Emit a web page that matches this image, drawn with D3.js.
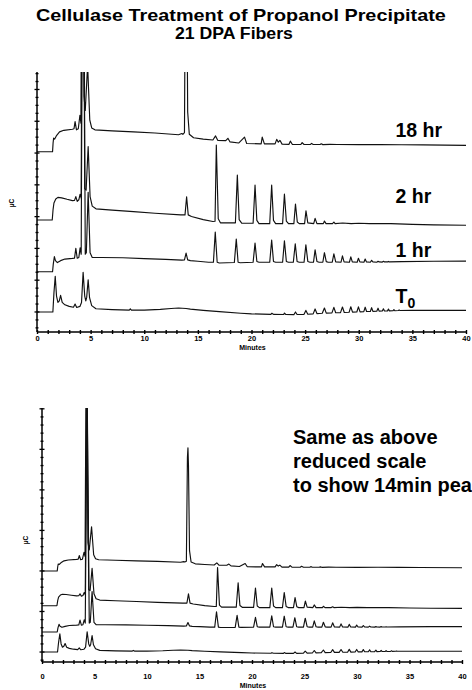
<!DOCTYPE html>
<html>
<head>
<meta charset="utf-8">
<script src="https://cdn.jsdelivr.net/npm/d3@7"></script>
<style>
body { margin: 0; background: #fff; }
text { font-family: "Liberation Sans", Arial, Helvetica, sans-serif; font-weight: bold; fill: #000; }
</style>
</head>
<body>
<div id="chart"></div>
<script>
// chart texts
const titleLines = ["Cellulase Treatment of Propanol Precipitate", "21 DPA Fibers"];
const sampleNames = ["18 hr", "2 hr", "1 hr", "T"];
const noteLines = ["Same as above", "reduced scale", "to show 14min peak"];
const minuteLabels = [0, 5, 10, 15, 20, 25, 30, 35, 40];

// vertical offset of each trace (same order as sampleNames), per panel, in µC units
const offsetsTop = [10.08, 6.16, 2.53, 0];
const offsetsBottom = [10.0, 6.08, 2.47, 0];

// traces: [minutes, µC above trace start]
const trace18hr = [[0,0],[1.45,0],[1.5,0.55],[1.55,0.86],[1.65,0.8],[1.8,1.0],[2.1,1.25],[2.5,1.35],[3.3,1.42],[3.45,1.45],
  [3.55,1.9],[3.68,1.38],[3.85,1.45],[4.0,2.3],[4.1,1.8],[4.22,30],[4.38,3.5],[4.5,2.6],[4.72,5.45],[4.92,2.0],[5.1,1.5],
  [5.4,1.38],[7,1.32],[9,1.25],[11,1.18],[13.2,1.07],[13.5,1.15],[13.6,1.1],[13.75,1.2],[13.85,14],[13.9,15.2],[13.95,13],
  [14.05,2.5],[14.2,1.1],[14.6,0.88],[15.5,0.8],[16.4,0.74],[16.65,1.0],[16.85,0.72],[17.6,0.7],[17.8,0.85],[18.0,0.62],
  [18.8,0.55],[19.35,0.92],[19.55,0.52],[20.9,0.5],[21.0,0.92],[21.2,0.5],[22.2,0.5],[22.35,0.78],[22.5,0.6],[22.65,0.72],
  [22.85,0.48],[23.5,0.47],[23.62,0.67],[23.8,0.47],[24.6,0.46],[24.72,0.58],[24.9,0.46],[25.5,0.46],[25.6,0.53],[25.75,0.46],
  [26.4,0.46],[26.5,0.5],[26.65,0.45],[27.3,0.47],[28,0.46],[30,0.45],[32,0.46],[34,0.44],[36,0.43],[40,0.4]];
const trace2hr = [[0,-0.37],[1.42,-0.37],[1.5,0.3],[1.58,0.7],[1.75,0.95],[1.95,1.05],[2.3,1.02],[2.8,0.93],[3.3,0.85],[3.5,0.86],
  [3.62,1.1],[3.75,0.8],[3.9,0.9],[4.02,1.25],[4.12,1.0],[4.27,30],[4.45,1.6],[4.58,1.5],[4.77,4.25],[4.95,1.1],[5.15,0.5],
  [5.5,0.33],[7,0.25],[9,0.15],[11,0.05],[13.4,-0.05],[13.8,-0.05],[13.95,1.09],[14.1,-0.05],[14.4,-0.15],[15.5,-0.35],
  [16.4,-0.47],[16.6,-0.45],[16.72,4.34],[16.9,-0.3],[17.1,-0.55],[17.5,-0.55],[18.5,-0.55],[18.68,2.45],[18.85,-0.35],
  [19.1,-0.58],[20.15,-0.58],[20.33,1.82],[20.5,-0.4],[20.7,-0.6],[21.7,-0.6],[21.88,1.82],[22.05,-0.4],[22.25,-0.6],
  [22.9,-0.6],[23.07,1.26],[23.25,-0.45],[23.45,-0.6],[23.95,-0.6],[24.1,0.63],[24.27,-0.5],[24.45,-0.6],[24.95,-0.6],
  [25.08,0.21],[25.25,-0.55],[25.8,-0.6],[25.93,-0.27],[26.1,-0.6],[26.7,-0.6],[26.8,-0.44],[26.95,-0.6],[27.55,-0.6],
  [27.68,-0.5],[27.8,-0.6],[28.5,-0.56],[29.3,-0.6],[30,-0.58],[31,-0.6],[33,-0.6],[35,-0.65],[37,-0.68],[40,-0.7]];
const trace1hr = [[0,0],[1.45,0],[1.52,0.5],[1.62,0.95],[1.72,0.7],[1.9,0.58],[2.2,0.7],[2.6,0.8],[3.3,0.84],[3.5,0.86],
  [3.62,1.47],[3.75,0.85],[3.9,0.9],[4.02,1.5],[4.12,1.1],[4.3,30],[4.5,1.1],[4.6,1.2],[4.77,5.0],[4.95,1.2],[5.15,0.9],
  [6,0.9],[8,0.88],[10,0.83],[12,0.78],[13.5,0.73],[13.75,0.75],[13.9,1.17],[14.05,0.75],[14.3,0.7],[15,0.66],[16,0.6],
  [16.45,0.6],[16.62,2.5],[16.8,0.6],[17,0.55],[18.4,0.58],[18.58,2.06],[18.75,0.6],[18.95,0.57],[20.15,0.6],[20.33,1.8],
  [20.5,0.65],[20.7,0.6],[21.7,0.6],[21.88,2.0],[22.05,0.65],[22.25,0.6],[22.9,0.6],[23.07,1.95],[23.25,0.65],[23.45,0.6],
  [23.9,0.6],[24.08,1.76],[24.25,0.65],[24.45,0.6],[24.9,0.6],[25.07,1.7],[25.25,0.65],[25.45,0.6],[25.78,0.6],[25.93,1.38],
  [26.1,0.65],[26.3,0.6],[26.65,0.6],[26.8,1.2],[26.97,0.64],[27.15,0.6],[27.53,0.6],[27.68,1.13],[27.85,0.62],[28.35,0.6],
  [28.48,1.0],[28.63,0.62],[29.13,0.6],[29.26,0.94],[29.4,0.62],[29.85,0.6],[29.97,0.85],[30.1,0.62],[30.48,0.6],[30.6,0.8],
  [30.72,0.62],[31.08,0.6],[31.2,0.72],[31.32,0.62],[31.68,0.6],[31.8,0.66],[31.9,0.62],[32.2,0.61],[32.3,0.66],[32.4,0.62],
  [32.7,0.62],[32.77,0.65],[32.85,0.62],[34,0.64],[37,0.66],[40,0.67]];
const traceT0 = [[0,0],[1.48,0],[1.58,1.2],[1.7,2.25],[1.82,1.0],[1.95,0.6],[2.08,0.7],[2.2,1.05],[2.35,0.6],[2.6,0.45],
  [3.0,0.35],[3.4,0.3],[3.55,0.5],[3.7,0.28],[4.0,0.35],[4.15,0.6],[4.3,2.5],[4.45,1.0],[4.55,0.7],[4.63,0.9],[4.77,2.03],
  [4.9,0.9],[5.1,0.4],[5.5,0.2],[7,0.15],[8.6,0.12],[8.7,0.2],[8.8,0.12],[10,0.12],[11.5,0.16],[12.5,0.22],[13.2,0.25],
  [13.9,0.22],[14.3,0.18],[15.5,0.1],[17,0.02],[19,-0.08],[20,-0.12],[21.8,-0.15],[21.9,-0.08],[22.05,-0.15],[23,-0.16],
  [23.07,-0.07],[23.2,-0.16],[23.95,-0.17],[24.1,0.0],[24.25,-0.16],[24.9,-0.15],[25.07,0.1],[25.25,-0.14],[25.75,-0.12],
  [25.93,0.19],[26.1,-0.1],[26.6,-0.08],[26.8,0.25],[26.97,-0.07],[27.5,-0.06],[27.68,0.29],[27.85,-0.05],[28.3,-0.04],
  [28.48,0.31],[28.65,-0.03],[29.1,-0.02],[29.26,0.33],[29.42,-0.01],[29.82,0.0],[29.97,0.32],[30.12,0.01],[30.47,0.02],
  [30.6,0.3],[30.73,0.03],[31.08,0.03],[31.2,0.27],[31.32,0.04],[31.68,0.05],[31.8,0.24],[31.9,0.05],[32.2,0.06],[32.3,0.2],
  [32.4,0.06],[32.68,0.07],[32.77,0.18],[32.86,0.07],[33.2,0.08],[33.28,0.15],[33.36,0.08],[33.7,0.09],[33.76,0.13],
  [33.84,0.09],[35,0.1],[37,0.1],[40,0.1]];
const traces = [trace18hr, trace2hr, trace1hr, traceT0];

const width = 472, height = 690;
const svg = d3.select("#chart").append("svg")
    .attr("width", width)
    .attr("height", height);

// title: the original lettering is wider than the font, so stretch each line to its width
const titleLeft = [36, 175], titleWidth = [410, 118];
svg.selectAll("text.title")
    .data(titleLines)
    .enter()
    .append("text")
        .attr("class", "title")
        .style("font-size", "16.5px")
        .text(d => d)
        .attr("transform", function(d, i) {
            const k = titleWidth[i] / this.getComputedTextLength();
            return `translate(${titleLeft[i]},${20.5 + i * 18}) scale(${k},1)`;
        });

function drawPanel(p, id) {
    const x = d3.scaleLinear().domain([0, 40]).range([p.left, p.right]);
    const y = d3.scaleLinear().domain(p.yDomain).range([p.bottom, p.top]);
    const g = svg.append("g");

    g.append("clipPath").attr("id", id)
        .append("rect")
            .attr("x", p.left).attr("y", p.top)
            .attr("width", p.right - p.left + 2).attr("height", p.bottom - p.top);

    // traces
    traces.forEach((tr, i) => {
        const line = d3.line()
            .x(d => x(d[0]))
            .y(d => y(d[1] + p.offsets[i]));
        g.append("path")
            .datum(tr)
            .attr("clip-path", `url(#${id})`)
            .attr("fill", "none")
            .attr("stroke", "#111")
            .attr("stroke-width", 1.15)
            .attr("stroke-linejoin", "round")
            .attr("d", line);
    });

    // x axis, tick every minute, labels every 5
    const xa = g.append("g")
        .attr("transform", `translate(0,${p.bottom})`)
        .call(d3.axisBottom(x)
            .tickValues(d3.range(0, 41))
            .tickSize(2)
            .tickPadding(p.labelPad)
            .tickFormat(d => minuteLabels.includes(d) ? d : ""));
    xa.select(".domain").attr("stroke-width", 1.5).attr("d", `M${p.left},0H${p.right}`);
    xa.selectAll(".tick line").attr("y1", -2).attr("stroke-width", 1.4);
    xa.selectAll(".tick text").style("font-size", "7.5px").style("font-family", null);

    // y axis, no labels
    const yTicks = d3.range(Math.ceil(p.yDomain[0] / p.yMinor) * p.yMinor, p.yDomain[1], p.yMinor);
    const isMajor = d => Math.abs(d / p.yMajor - Math.round(d / p.yMajor)) < 1e-6;
    const ya = g.append("g").attr("transform", `translate(${p.left},0)`);
    ya.append("line")
        .attr("y1", p.top).attr("y2", p.bottom)
        .attr("stroke", "#000").attr("stroke-width", 1.5);
    ya.selectAll("line.tick")
        .data(yTicks)
        .enter()
        .append("line")
            .attr("class", "tick")
            .attr("x1", d => isMajor(d) ? -2.5 : -1.5)
            .attr("x2", d => isMajor(d) ? 2.5 : 1.5)
            .attr("y1", d => y(d)).attr("y2", d => y(d))
            .attr("stroke", "#000").attr("stroke-width", 1.3);

    g.append("text")
        .attr("x", (p.left + p.right) / 2 + 1)
        .attr("y", p.minutesY)
        .attr("text-anchor", "middle")
        .style("font-size", "7px")
        .text("Minutes");

    g.append("text")
        .attr("transform", `translate(${p.ucX},${p.ucY}) rotate(-90)`)
        .attr("text-anchor", "middle")
        .style("font-size", "6.5px")
        .text("µC");
    return {x: x, y: y, g: g};
}

const topPanel = drawPanel({left: 37, right: 466, top: 72, bottom: 332, yDomain: [-1.26, 15.1],
    yMajor: 2, yMinor: 0.5, offsets: offsetsTop, labelPad: 2, minutesY: 350, ucX: 14, ucY: 203}, "clipTop");
const bottomPanel = drawPanel({left: 42, right: 462, top: 408, bottom: 662, yDomain: [-1.23, 30.1],
    yMajor: 5, yMinor: 1, offsets: offsetsBottom, labelPad: 10, minutesY: 688, ucX: 28, ucY: 540}, "clipBottom");

// sample names on the top panel
const nameY = [136.7, 203.3, 257.3, 303.3];
sampleNames.forEach((name, i) => {
    const t = svg.append("text")
        .attr("x", 395.5)
        .attr("y", nameY[i])
        .style("font-size", "19.5px")
        .text(name);
    if (name === "T") {
        t.append("tspan").attr("dy", 5).style("font-size", "14px").text("0");
    }
});

// note on the bottom panel, runs off the right edge as in the original
svg.selectAll("text.note")
    .data(noteLines)
    .enter()
    .append("text")
        .attr("class", "note")
        .attr("x", 293)
        .attr("y", (d, i) => 443.5 + i * 24)
        .style("font-size", "20px")
        .text(d => d);
</script>
</body>
</html>
